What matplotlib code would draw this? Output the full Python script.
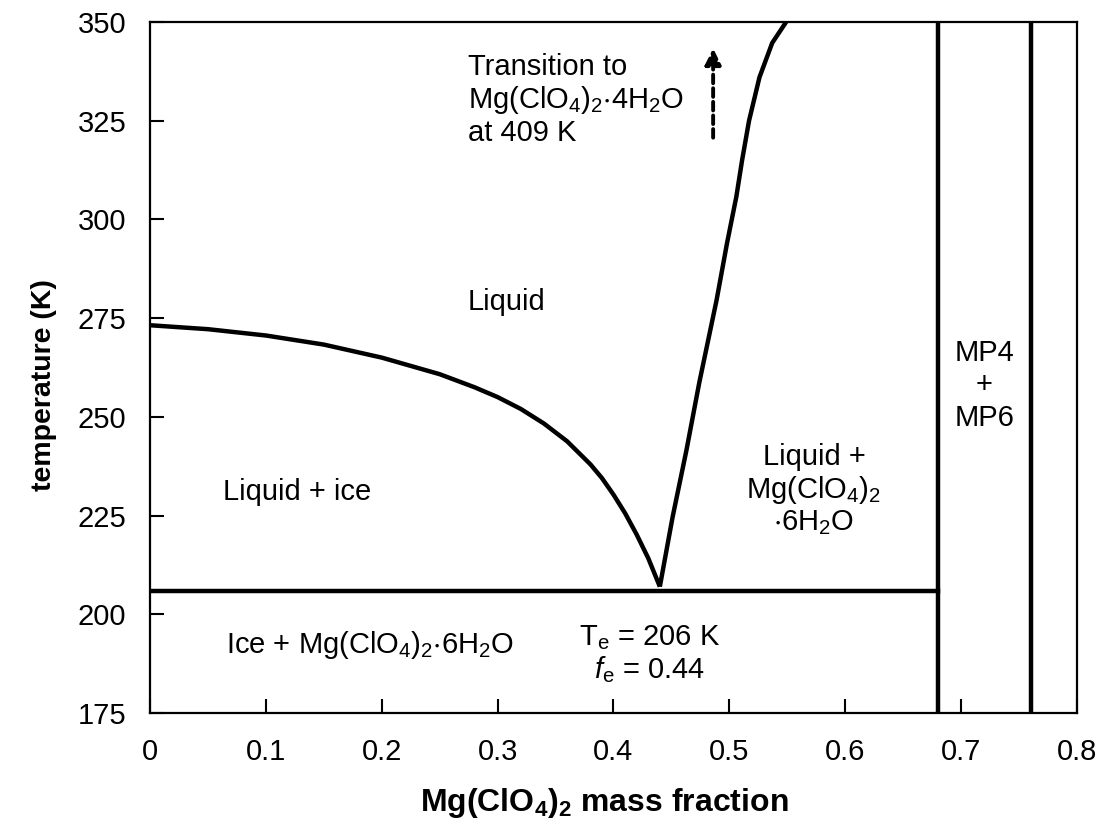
import matplotlib
matplotlib.use("Agg")
import matplotlib.pyplot as plt

plt.rcParams['font.family'] = ['Liberation Sans', 'DejaVu Sans']
plt.rcParams['mathtext.fontset'] = 'custom'
plt.rcParams['mathtext.rm'] = 'Liberation Sans'
plt.rcParams['mathtext.it'] = 'Liberation Sans:italic'
plt.rcParams['mathtext.bf'] = 'Liberation Sans:bold'
plt.rcParams['mathtext.default'] = 'regular'

# ice liquidus (mass fraction, K)
ice_x = [0.00, 0.05, 0.10, 0.15, 0.20, 0.25, 0.28, 0.30, 0.32, 0.34, 0.36, 0.38, 0.39,
         0.40, 0.41, 0.42, 0.43, 0.44]
ice_T = [273.2, 272.2, 270.6, 268.3, 265.0, 260.8, 257.5, 255.0, 252.0, 248.3, 243.8, 238.0, 234.5,
         230.3, 225.6, 220.2, 214.2, 207.0]

# hexahydrate solubility curve
hex_x = [0.440, 0.451, 0.463, 0.474, 0.489, 0.498, 0.506, 0.511, 0.517, 0.526, 0.537, 0.549]
hex_T = [207.0, 224.6, 241.6, 258.6, 279.6, 294.0, 305.7, 315.0, 325.0, 336.0, 344.7, 350.0]

T_eut = 206
x_eut_end = 0.68
mp_lines = [0.68, 0.76]

xticks = [0, 0.1, 0.2, 0.3, 0.4, 0.5, 0.6, 0.7, 0.8]
xtick_labels = ['0', '0.1', '0.2', '0.3', '0.4', '0.5', '0.6', '0.7', '0.8']
yticks = [175, 200, 225, 250, 275, 300, 325, 350]

fig = plt.figure(figsize=(11.04, 8.26), dpi=100)
ax = fig.add_axes([0.1359, 0.1368, 0.8396, 0.8366])

lw = 3.2
ax.plot(ice_x, ice_T, color='black', lw=lw, solid_capstyle='butt', solid_joinstyle='round')
ax.plot(hex_x, hex_T, color='black', lw=lw, solid_capstyle='butt', solid_joinstyle='round')
ax.plot([0, x_eut_end], [T_eut, T_eut], color='black', lw=lw)
for xv in mp_lines:
    ax.plot([xv, xv], [175, 350], color='black', lw=lw)

# dashed arrow
ax.annotate('', xy=(0.486, 344), xytext=(0.486, 320),
            arrowprops=dict(arrowstyle='-|>', linestyle=(0, (2.2, 1.3)), lw=2.8,
                            color='black', mutation_scale=24))

fs = 21
ax.text(0.274, 330.3, 'Transition to\nMg(ClO$_4$)$_2$$\\cdot$4H$_2$O\nat 409 K',
        ha='left', va='center', fontsize=fs, linespacing=1.12)
ax.text(0.308, 279, 'Liquid', ha='center', va='center', fontsize=fs)
ax.text(0.127, 231, 'Liquid + ice', ha='center', va='center', fontsize=fs)
ax.text(0.573, 231.5, 'Liquid +\nMg(ClO$_4$)$_2$\n$\\cdot$6H$_2$O',
        ha='center', va='center', fontsize=fs, linespacing=1.1)
ax.text(0.72, 258, 'MP4\n+\nMP6', ha='center', va='center', fontsize=fs, linespacing=1.2)
ax.text(0.19, 192.3, 'Ice + Mg(ClO$_4$)$_2$$\\cdot$6H$_2$O', ha='center', va='center', fontsize=fs)
ax.text(0.431, 190, 'T$_e$ = 206 K\n$\\mathit{f}_e$ = 0.44', ha='center', va='center',
        fontsize=fs, linespacing=1.1)

ax.set_xlim(0, 0.8)
ax.set_ylim(175, 350)
ax.set_xticks(xticks)
ax.set_xticklabels(xtick_labels)
ax.set_yticks(yticks)
ax.tick_params(direction='in', length=10, width=1.5, labelsize=21, pad=18,
               top=False, right=False)
ax.tick_params(axis='y', pad=17)
for s in ax.spines.values():
    s.set_linewidth(1.6)

ax.set_xlabel('Mg(ClO$_4$)$_2$ mass fraction', fontsize=23, fontweight='bold')
ax.set_ylabel('temperature (K)', fontsize=20.5, fontweight='bold')
ax.xaxis.set_label_coords(0.49, -0.105)
ax.yaxis.set_label_coords(-0.10, 0.475)

fig.savefig('out.png', dpi=100)
